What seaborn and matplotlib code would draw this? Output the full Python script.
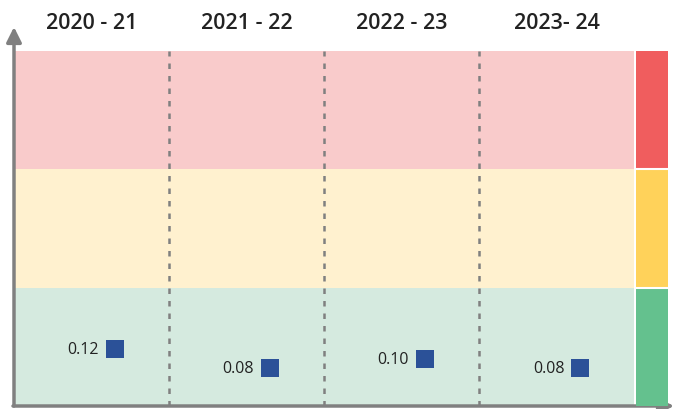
import numpy as np
import matplotlib.pyplot as plt
import pandas as pd
import seaborn as sns

# data
years = ['2020 - 21', '2021 - 22', '2022 - 23', '2023- 24']
values = [0.12, 0.08, 0.10, 0.08]
band_edges = [0.0, 0.25, 0.5, 0.75]
band_light = ['#D5EADF', '#FFF1CF', '#F9CBCB']
band_strong = ['#64C18E', '#FFD25A', '#F05D5E']

df = pd.DataFrame({'year': years, 'value': values, 'pos': np.arange(len(years))})

sns.set_style('white')
plt.rcParams['font.family'] = ['Open Sans', 'DejaVu Sans']

fig = plt.figure(figsize=(6.75, 4.1), dpi=100)
ax = fig.add_axes([14 / 675, 3 / 410, 620 / 675, 355 / 410])

# coloured bands
for i in range(3):
    ax.axhspan(band_edges[i], band_edges[i + 1], color=band_light[i], lw=0, zorder=0)

# column dividers
for x in np.arange(len(years) - 1) + 0.5:
    ax.axvline(x, color='#808080', ls=(0, (2.2, 2.8)), lw=1.8, zorder=1)

# markers, shifted a bit right of the column centre
off = 0.15
sns.scatterplot(x=df['pos'] + off, y=df['value'], marker='s', s=170, color='#2B5198',
                edgecolor='none', ax=ax, zorder=3, legend=False)
for _, r in df.iterrows():
    ax.text(r['pos'] + off - 0.1, r['value'], '{:.2f}'.format(r['value']),
            ha='right', va='center', fontsize=11.5, color='#222222')

ax.set_xlim(-0.5, len(years) - 0.5)
ax.set_ylim(band_edges[0], band_edges[-1])
ax.set_xticks(df['pos'])
ax.set_xticklabels(years, fontsize=15.5, fontweight='semibold', color='#222222')
ax.xaxis.tick_top()
ax.tick_params(axis='x', length=0, pad=13)
ax.set_yticks([])
ax.set_xlabel('')
ax.set_ylabel('')
for s in ax.spines.values():
    s.set_visible(False)

# right colour strip
ax2 = fig.add_axes([636 / 675, 3 / 410, 32 / 675, 355 / 410])
for i in range(3):
    ax2.axhspan(band_edges[i], band_edges[i + 1], color=band_strong[i], lw=0)
    if i > 0:
        ax2.axhline(band_edges[i], color='white', lw=1.5)
ax2.set_ylim(band_edges[0], band_edges[-1])
ax2.set_xlim(0, 1)
ax2.axis('off')

# axis arrows
arrow = dict(arrowstyle='-|>,head_length=0.9,head_width=0.45', color='#808080', lw=2.5,
             shrinkA=0, shrinkB=0)
ax.annotate('', xy=(14 / 675, 1 - 28 / 410), xytext=(14 / 675, 3 / 410),
            xycoords='figure fraction', textcoords='figure fraction', arrowprops=arrow)
ax.annotate('', xy=(674 / 675, 3 / 410), xytext=(13 / 675, 3 / 410),
            xycoords='figure fraction', textcoords='figure fraction', arrowprops=arrow)

fig.savefig('out.png', dpi=100)
